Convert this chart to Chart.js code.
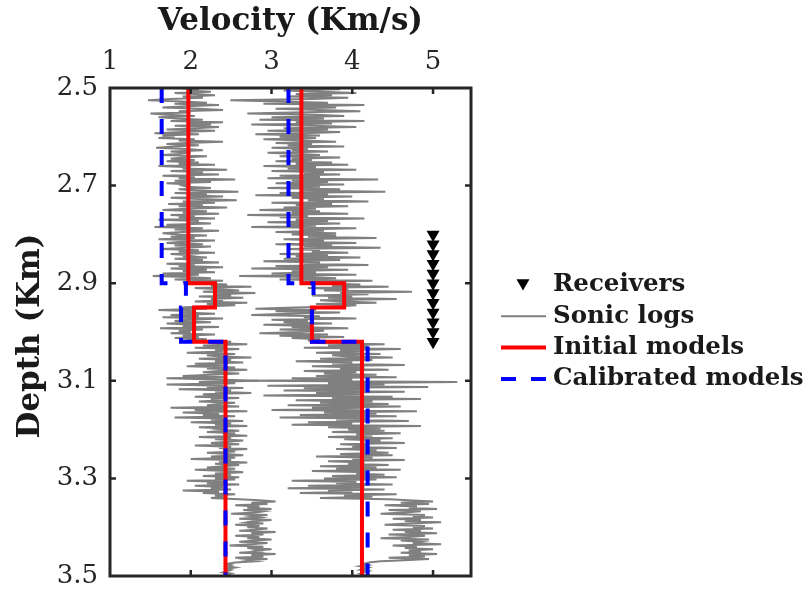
<!DOCTYPE html>
<html>
<head>
<meta charset="utf-8">
<script src="https://cdn.jsdelivr.net/npm/chart.js@4.4.1/dist/chart.umd.min.js"></script>
<style>
  html, body { margin: 0; padding: 0; background: #fff; }
  #wrap { width: 811px; height: 597px; }
</style>
</head>
<body>
<div id="wrap"><canvas id="velChart" width="811" height="597"></canvas></div>
<script>
// axis ticks
const xTicks = [1, 2, 3, 4, 5];
const yTicks = [2.5, 2.7, 2.9, 3.1, 3.3, 3.5];

// layered velocity models (km/s), one value per layer
const layerTops = [2.5, 2.9, 2.95, 3.02];
const depthBottom = 3.5;
const initialWell1 = [1.97, 2.30, 2.04, 2.43];
const initialWell2 = [3.37, 3.90, 3.50, 4.12];
const calibratedWell1 = [1.64, 1.94, 1.88, 2.43];
const calibratedWell2 = [3.21, 3.52, 3.50, 4.19];

// receiver array in the borehole
const receiverVelocity = 5;
const receiverDepths = [2.80, 2.82, 2.84, 2.86, 2.88, 2.90, 2.92, 2.94, 2.96, 2.98, 3.00, 3.02];

// sonic logs, one sample every 2.5 m from 2.5 km (20 samples per row)
const logDepthStart = 2.5;
const logDepthStep = 0.0025;
const sonicWell1 = [
  1.85, 2.10, 1.95, 2.25, 1.80, 2.05, 2.30, 1.90, 2.15, 1.75, 1.47, 1.90, 2.20, 1.80, 2.35, 1.95, 1.65, 2.10, 2.40, 1.85,
  2.00, 1.50, 1.70, 2.05, 1.60, 1.85, 2.15, 1.75, 2.40, 1.95, 2.25, 1.80, 2.35, 2.05, 1.70, 2.30, 1.90, 1.55, 2.10, 1.65,
  1.80, 1.60, 2.05, 1.85, 2.40, 1.95, 1.70, 2.10, 1.80, 1.57, 1.95, 2.15, 1.75, 2.00, 1.85, 1.65, 2.20, 1.90, 1.75, 2.05,
  1.70, 2.10, 1.85, 2.30, 1.60, 2.00, 1.90, 2.45, 1.75, 2.15, 1.95, 2.35, 1.65, 2.05, 1.85, 2.55, 1.80, 2.25, 1.70, 2.00,
  1.90, 1.95, 2.25, 1.85, 2.05, 2.59, 1.80, 2.20, 1.95, 2.40, 1.75, 2.10, 2.57, 1.90, 2.30, 1.72, 2.15, 1.85, 2.45, 1.95,
  1.65, 2.20, 1.90, 2.35, 1.75, 2.05, 1.85, 2.30, 1.60, 2.10, 1.95, 2.25, 1.70, 2.00, 1.55, 2.15, 1.80, 2.35, 1.90, 1.65,
  1.85, 2.20, 1.75, 2.05, 1.60, 2.30, 1.90, 1.70, 2.15, 1.80, 2.25, 1.95, 1.65, 2.10, 1.85, 2.30, 1.75, 2.00, 1.90, 2.20,
  1.80, 2.15, 1.95, 2.35, 1.70, 2.05, 1.85, 2.40, 1.75, 2.20, 1.90, 2.30, 1.65, 2.10, 1.53, 1.95, 2.25, 1.80, 2.40, 1.90,
  2.10, 2.45, 2.25, 2.75, 2.05, 2.35, 2.60, 2.15, 2.80, 2.30, 2.50, 2.10, 2.65, 2.25, 2.40, 2.05, 2.70, 2.20, 2.55, 2.15,
  1.85, 2.20, 1.60, 2.05, 1.90, 2.30, 1.75, 2.10, 1.65, 2.40, 1.95, 1.80, 2.25, 1.70, 2.05, 1.90, 2.35, 1.62, 2.15, 1.85,
  2.00, 1.75, 2.30, 1.90, 2.10, 1.80, 2.20, 1.95, 2.50, 2.25, 2.70, 2.15, 2.45, 2.05, 2.60, 2.30, 2.40, 1.95, 2.55, 2.20,
  2.35, 2.75, 2.10, 2.50, 2.30, 2.65, 2.05, 2.40, 1.95, 2.55, 2.20, 2.70, 2.35, 2.15, 2.60, 2.25, 1.90, 2.45, 1.70, 2.30,
  2.85, 2.10, 2.55, 1.70, 2.40, 2.20, 2.65, 1.85, 2.50, 2.30, 2.75, 2.15, 2.45, 2.05, 2.60, 2.25, 2.40, 2.10, 2.55, 2.35,
  2.20, 2.60, 1.75, 2.45, 2.05, 2.70, 1.90, 2.35, 2.15, 2.55, 1.80, 2.40, 2.25, 2.65, 2.00, 2.50, 2.30, 2.70, 2.10, 2.45,
  2.35, 2.60, 2.20, 2.55, 2.40, 2.70, 2.10, 2.50, 2.30, 2.65, 2.45, 2.25, 2.60, 2.05, 2.50, 2.35, 2.70, 2.40, 2.55, 2.20,
  2.45, 2.65, 2.25, 2.55, 2.00, 2.50, 2.35, 2.70, 2.30, 2.60, 2.40, 2.20, 2.55, 2.05, 2.45, 2.65, 2.30, 2.50, 2.15, 2.60,
  2.30, 2.55, 1.95, 2.45, 2.20, 2.60, 2.05, 2.40, 2.25, 2.50, 1.90, 2.35, 2.15, 2.55, 2.30, 2.45, 2.25, 2.60, 2.85, 3.05,
  2.75, 2.95, 2.55, 2.85, 2.70, 3.00, 2.65, 2.90, 2.80, 2.50, 2.95, 2.75, 2.85, 2.60, 3.00, 2.80, 2.70, 2.90, 2.55, 2.85,
  2.70, 2.95, 2.80, 2.60, 3.05, 2.75, 2.90, 2.55, 2.85, 2.70, 3.00, 2.80, 2.60, 2.95, 2.75, 2.48, 2.90, 2.70, 3.00, 2.80,
  2.85, 2.60, 3.05, 2.75, 2.90, 2.55, 2.95, 2.70, 2.80, 2.55, 2.45, 2.50, 2.45, 2.55, 2.45, 2.50, 2.45, 2.40, 2.50, 2.45,
  2.45
];
const sonicWell2 = [
  3.40, 3.85, 3.15, 3.60, 4.05, 3.30, 3.75, 3.20, 3.95, 3.50, 2.49, 3.10, 3.70, 2.90, 4.15, 3.35, 3.80, 3.05, 3.60, 4.10,
  3.25, 2.70, 3.55, 3.90, 3.00, 3.65, 2.85, 4.15, 3.30, 3.75, 2.75, 3.50, 4.05, 3.15, 3.70, 2.95, 3.85, 3.40, 2.80, 3.60,
  3.10, 3.55, 2.90, 3.40, 3.80, 3.05, 3.50, 3.20, 3.90, 3.00, 3.45, 3.25, 3.70, 2.95, 3.35, 3.60, 3.10, 3.85, 3.25, 3.50,
  3.05, 3.75, 3.30, 3.95, 2.90, 3.55, 3.20, 4.05, 3.00, 3.65, 3.40, 3.85, 3.10, 3.60, 2.95, 4.32, 3.25, 3.70, 3.05, 3.90,
  3.20, 3.60, 2.95, 3.85, 3.35, 4.41, 3.10, 3.70, 2.80, 4.00, 3.25, 3.65, 3.45, 4.20, 3.00, 3.75, 3.30, 3.95, 3.15, 3.55,
  2.85, 3.60, 3.25, 3.95, 2.70, 3.45, 3.10, 4.15, 3.30, 3.70, 2.95, 3.85, 3.20, 3.55, 2.75, 4.05, 3.35, 3.65, 3.05, 3.80,
  3.25, 3.80, 3.45, 4.30, 3.15, 3.65, 3.35, 4.05, 3.05, 3.75, 3.40, 4.35, 3.20, 3.60, 3.50, 3.95, 3.10, 3.70, 3.30, 4.10,
  3.15, 3.85, 2.90, 3.60, 3.40, 4.20, 3.05, 3.70, 2.75, 3.95, 3.25, 3.55, 3.00, 4.05, 2.60, 3.45, 3.80, 3.10, 4.25, 3.35,
  3.55, 4.10, 3.75, 4.45, 3.45, 3.95, 3.65, 4.74, 3.85, 4.20, 3.50, 4.00, 3.70, 4.55, 3.60, 3.90, 4.30, 3.55, 4.05, 3.80,
  3.30, 2.80, 3.55, 3.05, 3.85, 3.20, 2.75, 3.60, 3.40, 4.05, 3.00, 3.45, 3.15, 3.75, 2.90, 3.50, 3.25, 3.95, 3.10, 3.65,
  3.35, 2.85, 3.70, 3.10, 3.90, 3.25, 3.60, 3.45, 4.05, 3.55, 4.40, 3.70, 4.20, 3.40, 4.60, 3.85, 4.10, 3.55, 4.35, 3.75,
  3.95, 4.50, 3.60, 4.25, 3.30, 4.00, 3.75, 4.65, 3.50, 4.15, 3.85, 4.45, 3.40, 4.05, 3.65, 4.30, 3.55, 4.55, 3.25, 4.00,
  2.75, 5.30, 3.70, 4.40, 2.95, 4.94, 3.40, 4.20, 3.15, 4.65, 3.55, 4.10, 2.90, 4.50, 3.75, 4.85, 3.30, 4.25, 3.60, 4.45,
  3.20, 4.60, 3.50, 4.10, 3.00, 4.80, 3.65, 4.30, 3.35, 4.55, 3.10, 4.20, 3.80, 4.70, 3.45, 4.00, 3.25, 4.85, 3.70, 4.35,
  3.95, 4.40, 3.75, 4.60, 4.05, 4.25, 3.70, 4.50, 3.90, 4.35, 4.15, 4.65, 3.85, 4.20, 4.00, 4.55, 3.80, 4.30, 4.10, 4.45,
  3.85, 4.50, 3.55, 4.25, 4.00, 4.65, 3.70, 4.15, 3.95, 4.45, 3.60, 4.30, 3.80, 4.60, 3.50, 4.20, 4.05, 4.40, 3.75, 4.55,
  3.65, 4.30, 3.25, 4.05, 3.80, 4.50, 3.45, 4.15, 3.20, 4.40, 3.70, 4.00, 3.35, 4.55, 3.90, 4.25, 3.60, 4.45, 4.70, 5.00,
  4.60, 4.95, 4.40, 4.80, 4.70, 5.05, 4.45, 4.85, 4.65, 4.35, 4.90, 4.75, 5.00, 4.50, 4.85, 4.65, 5.10, 4.70, 4.40, 4.90,
  4.75, 5.00, 4.50, 4.85, 4.65, 5.05, 4.45, 4.90, 4.70, 4.35, 4.95, 4.60, 4.85, 4.75, 5.10, 4.50, 4.80, 4.65, 5.00, 4.70,
  4.85, 4.60, 5.05, 4.70, 4.90, 4.45, 4.95, 4.65, 4.35, 4.20, 4.15, 4.20, 4.10, 4.20, 4.15, 4.10, 4.20, 4.15, 4.10, 4.15,
  4.15
];

const GRAY = '#808080';
const RED = '#ff0000';
const BLUE = '#0000ff';
const INK = '#262626';
const SERIF = '"DejaVu Serif", "Liberation Serif", serif';

function logPoints(values) {
  return values.map((v, i) => ({ x: v, y: logDepthStart + i * logDepthStep }));
}

// turn layer velocities into a staircase: top and bottom of every layer
function stepPoints(vels) {
  const pts = [];
  vels.forEach((v, i) => {
    const top = layerTops[i];
    const bottom = i + 1 < layerTops.length ? layerTops[i + 1] : depthBottom;
    pts.push({ x: v, y: top }, { x: v, y: bottom });
  });
  return pts;
}

const legendItems = [
  { label: 'Receivers', kind: 'triangle' },
  { label: 'Sonic logs', kind: 'line', color: GRAY, width: 2, dash: [] },
  { label: 'Initial models', kind: 'line', color: RED, width: 4, dash: [] },
  { label: 'Calibrated models', kind: 'line', color: BLUE, width: 4, dash: [15, 15] }
];

function downTriangle(ctx, x, y, r) {
  ctx.beginPath();
  ctx.moveTo(x - r * 0.866, y - r * 0.5);
  ctx.lineTo(x + r * 0.866, y - r * 0.5);
  ctx.lineTo(x, y + r);
  ctx.closePath();
  ctx.fill();
}

// box, inward ticks, labels, titles and legend
const framePlugin = {
  id: 'frame',
  afterDraw(chart) {
    const { ctx, chartArea: a, scales } = chart;
    const xs = scales.x, ys = scales.y;
    ctx.save();

    ctx.strokeStyle = INK;
    ctx.lineWidth = 3;
    ctx.strokeRect(a.left, a.top, a.right - a.left, a.bottom - a.top);

    ctx.lineWidth = 2.5;
    ctx.beginPath();
    xTicks.forEach(t => {
      const px = xs.getPixelForValue(t);
      if (px - a.left < 3) return;
      ctx.moveTo(px, a.top); ctx.lineTo(px, a.top + 6);
      ctx.moveTo(px, a.bottom); ctx.lineTo(px, a.bottom - 6);
    });
    yTicks.forEach(t => {
      const py = ys.getPixelForValue(t);
      if (py - a.top < 3 || a.bottom - py < 3) return;
      ctx.moveTo(a.left, py); ctx.lineTo(a.left + 6, py);
      ctx.moveTo(a.right, py); ctx.lineTo(a.right - 6, py);
    });
    ctx.stroke();

    ctx.fillStyle = INK;
    ctx.font = '26px ' + SERIF;
    ctx.textAlign = 'center';
    ctx.textBaseline = 'middle';
    xTicks.forEach(t => ctx.fillText(String(t), xs.getPixelForValue(t), 62));
    ctx.textAlign = 'right';
    yTicks.forEach(t => ctx.fillText(t.toFixed(1), a.left - 12, ys.getPixelForValue(t)));

    ctx.fillStyle = '#1a1a1a';
    ctx.font = 'bold 31px ' + SERIF;
    ctx.textAlign = 'center';
    ctx.fillText('Velocity (Km/s)', (a.left + a.right) / 2, 22);
    ctx.save();
    ctx.translate(31, (a.top + a.bottom) / 2 + 4);
    ctx.rotate(-Math.PI / 2);
    ctx.fillText('Depth (Km)', 0, 0);
    ctx.restore();

    // legend
    ctx.font = 'bold 24.5px ' + SERIF;
    ctx.textAlign = 'left';
    legendItems.forEach((item, i) => {
      const y = 285 + i * 31.3;
      if (item.kind === 'triangle') {
        ctx.fillStyle = '#000';
        downTriangle(ctx, 523, y - 2, 7.5);
      } else {
        ctx.strokeStyle = item.color;
        ctx.lineWidth = item.width;
        ctx.setLineDash(item.dash);
        ctx.beginPath();
        ctx.moveTo(501, y); ctx.lineTo(546, y);
        ctx.stroke();
        ctx.setLineDash([]);
      }
      ctx.fillStyle = '#1a1a1a';
      ctx.fillText(item.label, 553, y);
    });
    ctx.restore();
  }
};

new Chart(document.getElementById('velChart'), {
  type: 'scatter',
  data: {
    datasets: [
      {
        label: 'Receivers',
        data: receiverDepths.map(d => ({ x: receiverVelocity, y: d })),
        pointStyle: 'triangle',
        rotation: 180,
        pointRadius: 7.5,
        backgroundColor: '#000',
        borderWidth: 0,
        showLine: false,
        order: 0
      },
      {
        label: 'Calibrated models',
        data: stepPoints(calibratedWell1),
        borderColor: BLUE, borderWidth: 4, borderDash: [15, 16],
        showLine: true, pointRadius: 0, order: 1
      },
      {
        label: 'Calibrated models (well 2)',
        data: stepPoints(calibratedWell2),
        borderColor: BLUE, borderWidth: 4, borderDash: [15, 16],
        showLine: true, pointRadius: 0, order: 1
      },
      {
        label: 'Initial models',
        data: stepPoints(initialWell1),
        borderColor: RED, borderWidth: 4,
        showLine: true, pointRadius: 0, order: 2
      },
      {
        label: 'Initial models (well 2)',
        data: stepPoints(initialWell2),
        borderColor: RED, borderWidth: 4,
        showLine: true, pointRadius: 0, order: 2
      },
      {
        label: 'Sonic logs',
        data: logPoints(sonicWell1),
        borderColor: GRAY, borderWidth: 2,
        showLine: true, pointRadius: 0, order: 3
      },
      {
        label: 'Sonic logs (well 2)',
        data: logPoints(sonicWell2),
        borderColor: GRAY, borderWidth: 2,
        showLine: true, pointRadius: 0, order: 3
      }
    ]
  },
  options: {
    responsive: false,
    animation: false,
    devicePixelRatio: 1,
    layout: { padding: { left: 110, top: 88, right: 340, bottom: 21 } },
    plugins: { legend: { display: false }, tooltip: { enabled: false } },
    scales: {
      x: { type: 'linear', display: false, min: 1, max: 5.47 },
      y: { type: 'linear', display: false, min: 2.5, max: 3.5, reverse: true }
    }
  },
  plugins: [framePlugin]
});
</script>
</body>
</html>
